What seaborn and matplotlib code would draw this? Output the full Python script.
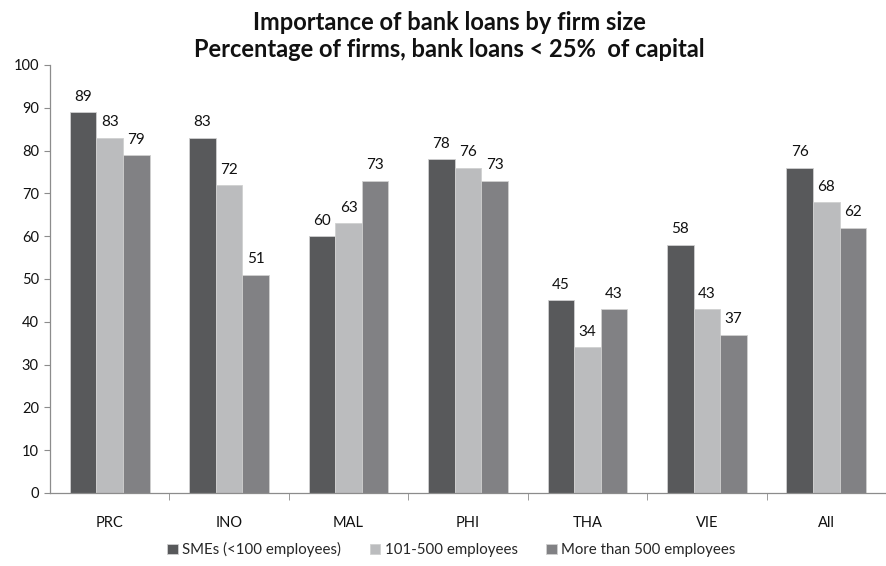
import matplotlib
matplotlib.use("Agg")
import matplotlib.pyplot as plt
import seaborn as sns
import pandas as pd

countries = ["PRC", "INO", "MAL", "PHI", "THA", "VIE", "All"]
sme = [89, 83, 60, 78, 45, 58, 76]
mid = [83, 72, 63, 76, 34, 43, 68]
large = [79, 51, 73, 73, 43, 37, 62]
series_names = ["SMEs (<100 employees)", "101-500 employees", "More than 500 employees"]
colors = ["#58595b", "#bbbcbe", "#808184"]
y_ticks = [0, 10, 20, 30, 40, 50, 60, 70, 80, 90, 100]

rows = []
for name, vals in zip(series_names, [sme, mid, large]):
    for c, v in zip(countries, vals):
        rows.append({"country": c, "size": name, "value": v})
df = pd.DataFrame(rows)

sns.set_style("white")
plt.rcParams["font.family"] = ["Lato", "DejaVu Sans"]

fig = plt.figure(figsize=(8.86, 5.66), dpi=100)
ax = fig.add_axes([50 / 886, 73 / 566, 1 - 50 / 886, 428 / 566])

sns.barplot(data=df, x="country", y="value", hue="size", order=countries,
            hue_order=series_names, palette=colors, width=0.667,
            edgecolor="#d0d0d0", linewidth=0.6, ax=ax, legend=True)

for cont in ax.containers:
    ax.bar_label(cont, fmt="%.0f", padding=6, fontsize=11, color="#111111")

ax.set_ylim(0, 100)
ax.set_xlim(-0.5, 6.47)
ax.set_yticks(y_ticks)
ax.set_xlabel("")
ax.set_ylabel("")

for s in ["top", "right"]:
    ax.spines[s].set_visible(False)
for s in ["left", "bottom"]:
    ax.spines[s].set_color("#8c8c8c")
    ax.spines[s].set_linewidth(0.9)

ax.tick_params(axis="y", left=True, length=4, color="#8c8c8c", labelsize=10.5,
               labelcolor="#111111", pad=4)
ax.set_xticks(range(len(countries)))
ax.set_xticklabels(countries, fontsize=10.5, color="#111111")
ax.tick_params(axis="x", bottom=False, pad=13)
ax.set_xticks([i + 0.5 for i in range(len(countries))], minor=True)
ax.tick_params(axis="x", which="minor", bottom=True, length=5, color="#8c8c8c")

ax.legend(loc="center", bbox_to_anchor=(0.48, -0.133), ncol=3, frameon=False,
          fontsize=10.8, handlelength=0.7, handleheight=0.7, handletextpad=0.3,
          columnspacing=1.9)

fig.text(0.507, 0.961, "Importance of bank loans by firm size", ha="center", va="center",
         fontsize=17, fontweight="bold", color="#111111")
fig.text(0.507, 0.912, "Percentage of firms, bank loans < 25%  of capital", ha="center",
         va="center", fontsize=17, fontweight="bold", color="#111111")

fig.savefig("out.png", dpi=100)
